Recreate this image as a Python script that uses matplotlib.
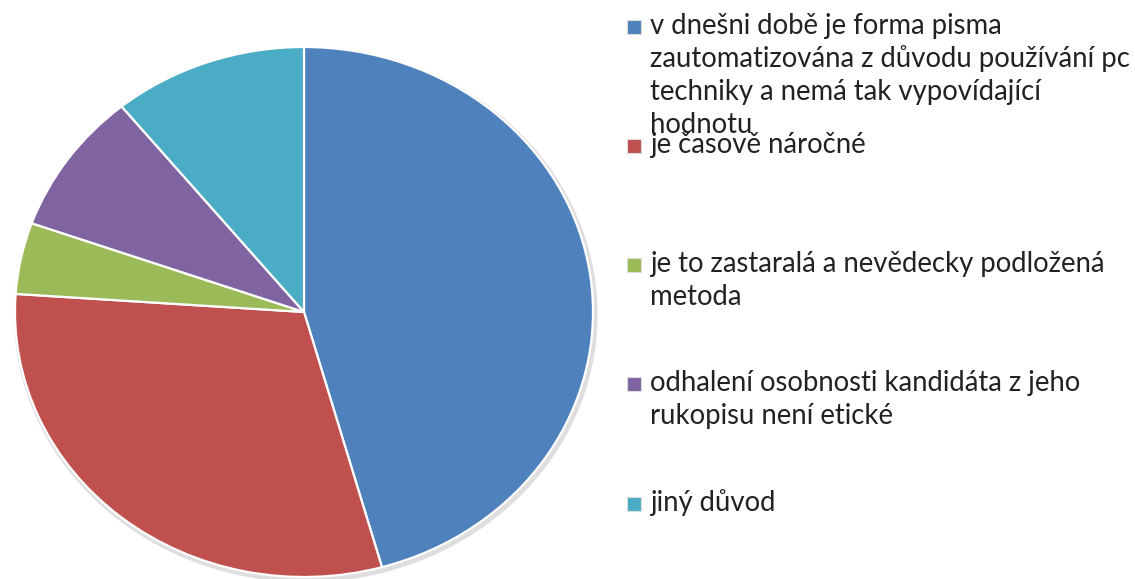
import matplotlib.pyplot as plt
from matplotlib.patches import Ellipse, Rectangle

# answers (counts) for each reason
labels = [
    "v dnešni době je forma pisma\nzautomatizována z důvodu používání pc\ntechniky a nemá tak vypovídající\nhodnotu",
    "je časově náročné",
    "je to zastaralá a nevědecky podložená\nmetoda",
    "odhalení osobnosti kandidáta z jeho\nrukopisu není etické",
    "jiný důvod",
]
counts = [21, 14, 2, 4, 5]
colors = ["#4F81BD", "#C0504D", "#9BBB59", "#8064A2", "#4BACC6"]

W, H = 1135, 579
fig = plt.figure(figsize=(W / 100, H / 100), dpi=100)
fig.patch.set_facecolor("white")

# pie area in pixels: left 15, right 593, top 47, bottom 577
ax = fig.add_axes([15 / W, (H - 577) / H, 578 / W, 530 / H])
ax.add_patch(Ellipse((0.006, -0.01), 2.02, 2.02, facecolor="#c8c8c8",
                     edgecolor="none", alpha=0.6, zorder=0, clip_on=False))
wedges, _ = ax.pie(counts, colors=colors, startangle=90, counterclock=False,
                   radius=1.0,
                   wedgeprops=dict(edgecolor="white", linewidth=1.6))
for w in wedges:
    w.set_zorder(1)
    w.set_clip_on(False)
ax.set_aspect("auto")
ax.set_xlim(-1, 1)
ax.set_ylim(-1, 1)
ax.axis("off")

# legend, positioned by hand (baseline of first line, px from top)
first_baseline = [34, 153, 272, 391, 511]
line_step = 33
font = ["Lato", "DejaVu Sans"]
for lab, col, y in zip(labels, colors, first_baseline):
    fig.add_artist(Rectangle((627 / W, (H - y) / H), 14 / W, 14 / H,
                             transform=fig.transFigure, facecolor=col,
                             edgecolor="#dcdcdc", linewidth=0.8))
    for i, line in enumerate(lab.split("\n")):
        fig.text(650 / W, (H - y - i * line_step) / H, line, fontsize=19.8,
                 family=font, color="#222222", va="baseline", ha="left",
                 transform=fig.transFigure)

fig.savefig("out.png", dpi=100)
